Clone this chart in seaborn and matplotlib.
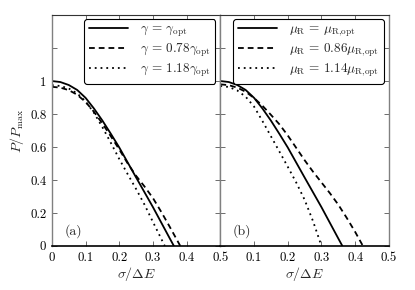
import numpy as np
import pandas as pd
import matplotlib
matplotlib.use("Agg")
import matplotlib.pyplot as plt
import seaborn as sns

# ---------------- data ----------------
x_opt = [0, 0.025, 0.05, 0.075, 0.1, 0.125, 0.15, 0.175, 0.2, 0.225, 0.25,
         0.275, 0.3, 0.325, 0.35, 0.362]
y_opt = [1.0, 0.994, 0.976, 0.946, 0.898, 0.833, 0.76, 0.68, 0.597, 0.506, 0.415,
         0.325, 0.235, 0.14, 0.045, 0.0]

x_g078 = [0, 0.025, 0.05, 0.075, 0.1, 0.125, 0.15, 0.175, 0.2, 0.225, 0.25,
          0.275, 0.3, 0.325, 0.35, 0.381]
y_g078 = [0.965, 0.96, 0.945, 0.917, 0.873, 0.813, 0.742, 0.665, 0.585, 0.50, 0.425,
          0.36, 0.29, 0.205, 0.115, 0.0]

x_g118 = [0, 0.025, 0.05, 0.075, 0.1, 0.125, 0.15, 0.175, 0.2, 0.225, 0.25,
          0.275, 0.3, 0.335]
y_g118 = [0.975, 0.97, 0.955, 0.925, 0.877, 0.807, 0.72, 0.625, 0.527, 0.435, 0.345,
          0.25, 0.145, 0.0]

x_m086 = [0, 0.025, 0.05, 0.075, 0.1, 0.125, 0.15, 0.175, 0.2, 0.225, 0.25,
          0.275, 0.3, 0.325, 0.35, 0.375, 0.4, 0.423]
y_m086 = [0.98, 0.975, 0.96, 0.935, 0.897, 0.85, 0.795, 0.738, 0.67, 0.595, 0.52,
          0.45, 0.385, 0.32, 0.25, 0.17, 0.085, 0.0]

x_m114 = [0, 0.025, 0.05, 0.075, 0.1, 0.125, 0.15, 0.175, 0.2, 0.225, 0.25,
          0.275, 0.3]
y_m114 = [0.97, 0.964, 0.943, 0.905, 0.845, 0.757, 0.665, 0.573, 0.48, 0.385, 0.28,
          0.15, 0.0]

labels_a = [r'$\gamma\,=\,\gamma_{\rm opt}$', r'$\gamma\,=\,0.78\gamma_{\rm opt}$',
            r'$\gamma\,=\,1.18\gamma_{\rm opt}$']
labels_b = [r'$\mu_{\rm R}\,=\,\mu_{{\rm R}{,}{\rm opt}}$',
            r'$\mu_{\rm R}\,=\,0.86\mu_{{\rm R}{,}{\rm opt}}$',
            r'$\mu_{\rm R}\,=\,1.14\mu_{{\rm R}{,}{\rm opt}}$']

x_ticks = [0, 0.1, 0.2, 0.3, 0.4, 0.5]
x_ticklabels_a = ['0', '0.1', '0.2', '0.3', '0.4', '0.5']
x_ticklabels_b = ['', '0.1', '0.2', '0.3', '0.4', '0.5']
y_ticks = [0, 0.2, 0.4, 0.6, 0.8, 1.0, 1.2]
y_ticklabels = ['0', '0.2', '0.4', '0.6', '0.8', '1', '']

# ---------------- style ----------------
sns.set_style('ticks')
plt.rcParams['font.family'] = ['cmr10', 'DejaVu Serif']
plt.rcParams['mathtext.fontset'] = 'cm'
plt.rcParams['axes.formatter.use_mathtext'] = True
plt.rcParams['xtick.direction'] = 'in'
plt.rcParams['ytick.direction'] = 'in'

FS = 9.2
LFS = 9.5
fig, axes = plt.subplots(1, 2, figsize=(4.15, 2.9), dpi=100, sharey=True)
fig.subplots_adjust(left=0.125, right=0.937, top=0.948, bottom=0.152, wspace=0)

styles = [dict(linestyle='-', lw=1.3),
          dict(linestyle=(0, (3.2, 2.2)), lw=1.3),
          dict(linestyle=(0, (1, 2.2)), lw=1.3)]

panels = [
    (axes[0], [(x_opt, y_opt), (x_g078, y_g078), (x_g118, y_g118)], labels_a,
     x_ticklabels_a, '(a)'),
    (axes[1], [(x_opt, y_opt), (x_m086, y_m086), (x_m114, y_m114)], labels_b,
     x_ticklabels_b, '(b)'),
]

for ax, series, labs, xtl, tag in panels:
    for (xs, ys), lab, st in zip(series, labs, styles):
        df = pd.DataFrame({'x': xs, 'y': ys})
        sns.lineplot(data=df, x='x', y='y', ax=ax, color='black', label=lab,
                     sort=True, estimator=None, **st)
    ax.set_xlim(0, 0.5)
    ax.set_ylim(0, 1.4)
    ax.set_xticks(x_ticks)
    ax.set_xticklabels(xtl, fontsize=FS)
    ax.set_yticks(y_ticks)
    ax.set_xlabel(r'$\sigma/\Delta E$', fontsize=FS + 0.8, labelpad=1)
    ax.set_ylabel('')
    ax.tick_params(axis='both', which='both', top=True, right=True,
                   length=3.5, width=0.6, colors='#555555',
                   labelcolor='black', pad=4)
    for side in ['left', 'right']:
        ax.spines[side].set_color('#808080')
        ax.spines[side].set_linewidth(1.0)
    ax.spines['top'].set_color('#333333')
    ax.spines['top'].set_linewidth(0.8)
    ax.spines['bottom'].set_color('black')
    ax.spines['bottom'].set_linewidth(1.2)
    ax.text(0.065, 0.09, tag, fontsize=FS + 0.8, ha='center', va='center')
    leg = ax.legend(loc='upper right', bbox_to_anchor=(0.97, 0.982),
                    fontsize=LFS, frameon=True, fancybox=True, framealpha=1,
                    edgecolor='black', handlelength=3.0, handletextpad=0.9,
                    borderpad=0.35, labelspacing=0.2, borderaxespad=0.0)
    leg.get_frame().set_linewidth(0.8)

axes[0].set_yticklabels(y_ticklabels, fontsize=FS)
axes[0].set_ylabel(r'$P/P_{\rm max}$', fontsize=FS + 0.8, labelpad=3)
axes[1].tick_params(axis='y', labelleft=False)

fig.savefig('out.png', dpi=100)
